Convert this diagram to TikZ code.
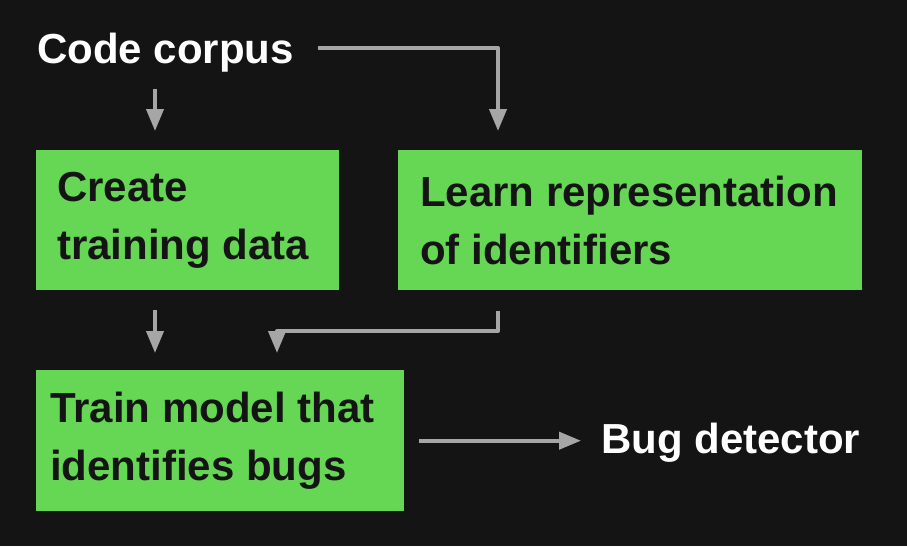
\documentclass[tikz,border=0pt]{standalone}
\usepackage{fontspec}
\setmainfont{Liberation Sans}
\usetikzlibrary{arrows.meta}
\definecolor{bg}{HTML}{141414}
\definecolor{boxgreen}{HTML}{66D655}
\definecolor{arrowgray}{HTML}{A6A6A6}
\begin{document}
\begin{tikzpicture}[x=1pt,y=1pt,
  txt/.style={font=\fontsize{42}{58}\selectfont\bfseries},
  box/.style={fill=boxgreen, anchor=north west, inner sep=0pt},
  btxt/.style={txt, text=bg, align=left, anchor=west, inner sep=0pt},
  label/.style={txt, text=white, anchor=base west, inner sep=0pt},
  arr/.style={draw=arrowgray, line width=4pt, line join=round, -{Triangle[length=22pt,width=17pt]}}]
\fill[bg] (0,0) rectangle (907,-546);
\useasboundingbox (0,0) rectangle (907,-546);
\node[label] (corpus) at (37,-63) {Code corpus};
\node[box, minimum width=303pt, minimum height=140pt] (create) at (36,-150) {};
\node[box, minimum width=464pt, minimum height=140pt] (learn) at (398,-150) {};
\node[box, minimum width=368pt, minimum height=141pt] (train) at (36,-370) {};
\node[btxt] (createtxt) at ([xshift=21pt]create.west) {Create\\training data};
\node[btxt] (learntxt) at ([xshift=22pt]learn.west) {Learn representation\\of identifiers};
\node[btxt] (traintxt) at ([xshift=14pt]train.west) {Train model that\\identifies bugs};
\node[label] (bug) at (601,-453) {Bug detector};
\coordinate (xa) at (155,0);
\coordinate (xb) at (498,0);
\coordinate (xc) at (277,0);
\coordinate (yb) at (0,-331);
\draw[arr, shorten <=17pt, shorten >=19pt] (corpus.south -| xa) -- (create.north -| xa);
\draw[arr, shorten >=19pt] (318,-48) -| (learn.north -| xb);
\draw[arr, shorten <=20pt, shorten >=17pt] (create.south -| xa) -- (train.north -| xa);
\draw[arr, shorten >=17pt] ([yshift=-21pt]learn.south -| xb) |- (yb -| xc) -- (train.north -| xc);
\draw[arr, shorten <=15pt, shorten >=20pt] (train.east) -- (train.east -| bug.west);
\end{tikzpicture}
\end{document}
